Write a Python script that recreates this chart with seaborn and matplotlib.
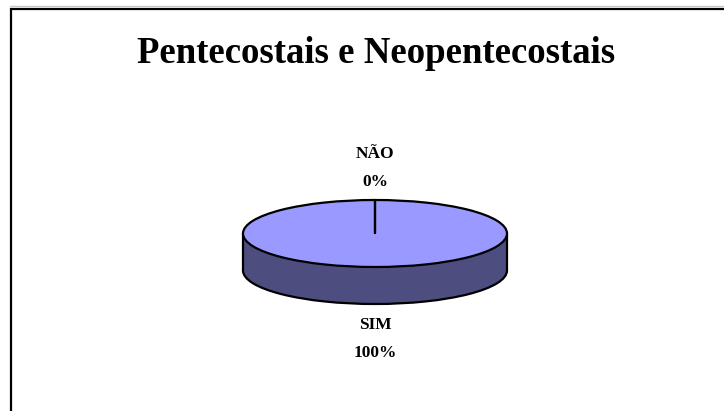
import matplotlib
matplotlib.use("Agg")
import matplotlib.pyplot as plt
import seaborn as sns
import numpy as np
from matplotlib.patches import Rectangle

sns.set_theme(style="white")
plt.rcParams['font.family'] = ['Liberation Serif', 'DejaVu Serif']

# Data
categories = ["NÃO", "SIM"]
values = [0, 100]
title = "Pentecostais e Neopentecostais"

top_color = "#9999FF"
side_color = "#4D4D80"

W, H, DPI = 7.24, 4.11, 100
fig = plt.figure(figsize=(W, H), dpi=DPI)
fig.patch.set_facecolor("white")
ax = fig.add_axes([0, 0, 1, 1])

# pixel geometry of the pie
cx_px, cy_px = 375, 233.5   # center (from top)
rx_px, ry_px = 132, 33.5
depth_px = 37
depth = depth_px / ry_px
start = 90

total = sum(values)
pct = [v / total * 100 for v in values]
labels = [f"{c}\n{p:.0f}%" for c, p in zip(categories, pct)]

wp = dict(edgecolor="black", linewidth=1.6)
# side (bottom ellipse)
ax.pie(values, colors=[side_color] * len(values), startangle=start, counterclock=False,
       center=(0, -depth), radius=1, wedgeprops=wp, frame=True)
ax.add_patch(Rectangle((-1, -depth), 2, depth, facecolor=side_color, edgecolor="none", zorder=1.5))
ax.plot([-1, -1], [-depth, 0], color="black", lw=1.6, zorder=1.6)
ax.plot([1, 1], [-depth, 0], color="black", lw=1.6, zorder=1.6)
# top face
wedges, texts = ax.pie(values, colors=[top_color] * len(values), startangle=start,
                       counterclock=False, center=(0, 0), radius=1,
                       labels=labels, labeldistance=2.1, wedgeprops=wp, frame=True,
                       textprops=dict(fontsize=12.5, fontweight="bold", color="black",
                                      linespacing=2.0))
for w in wedges:
    w.set_zorder(2)
# slice boundaries on the top face (drawn explicitly so zero slices show)
bounds = start - 360 * np.cumsum([0] + values[:-1]) / total
for a in bounds:
    th = np.deg2rad(a)
    ax.plot([0, np.cos(th)], [0, np.sin(th)], color="black", lw=1.6, zorder=2.5)

for t in texts:
    t.set_ha("center")
    x, y = t.get_position()
    if y < 0:
        t.set_position((x, y - depth + 0.07))
    else:
        t.set_position((x, y - 0.145))

ax.set_aspect("auto")
ax.set_xlim(-cx_px / rx_px, (W * DPI - cx_px) / rx_px)
ax.set_ylim(-(H * DPI - cy_px) / ry_px, cy_px / ry_px)
ax.set_xticks([])
ax.set_yticks([])
for s in ax.spines.values():
    s.set_visible(False)

fig.text(376 / (W * DPI), 1 - 63 / (H * DPI), title, ha="center", va="baseline",
         fontsize=26.5, fontweight="bold", color="black")

# chart border (extends off right and bottom)
fig.add_artist(Rectangle((10.5 / (W * DPI), -0.05), 2, (H * DPI - 9) / (H * DPI) + 0.05,
                         transform=fig.transFigure, facecolor="none",
                         edgecolor="black", linewidth=1.6))
fig.add_artist(plt.Line2D([10 / (W * DPI), 1], [1 - 6.5 / (H * DPI)] * 2,
                          transform=fig.transFigure, color="#c8c8c8", lw=1))

fig.savefig("out.png", dpi=DPI)
